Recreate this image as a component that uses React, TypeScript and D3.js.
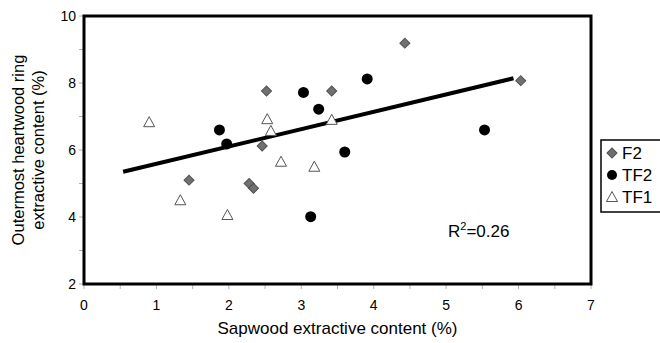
import React, { useEffect, useRef } from "react";
import * as d3 from "d3";

// F2 (gray diamonds)
const f2X = [6.03, 4.43, 3.42, 2.52, 2.46, 1.45, 2.28, 2.34];
const f2Y = [8.07, 9.19, 7.76, 7.76, 6.12, 5.1, 5.0, 4.86];
// TF2 (black circles)
const tf2X = [1.87, 1.97, 3.03, 3.24, 3.91, 3.6, 3.13, 5.53];
const tf2Y = [6.6, 6.18, 7.72, 7.22, 8.12, 5.94, 4.01, 6.6];
// TF1 (open triangles)
const tf1X = [0.9, 1.33, 1.98, 2.53, 2.58, 2.72, 3.18, 3.42];
const tf1Y = [6.83, 4.5, 4.06, 6.92, 6.57, 5.65, 5.5, 6.9];
// fitted line end points
const trendX = [0.54, 5.93];
const trendY = [5.35, 8.14];

const xLabels = [0, 1, 2, 3, 4, 5, 6, 7];
const yLabels = [2, 4, 6, 8, 10];
const legendNames = ["F2", "TF2", "TF1"];

const W = 660;
const H = 343;
const font = "'Liberation Sans', Arial, sans-serif";

const App: React.FC = () => {
  const svgRef = useRef<SVGSVGElement>(null);

  useEffect(() => {
    if (!svgRef.current) return;
    const svg = d3.select(svgRef.current);
    svg.selectAll("*").remove();

    const left = 84, right = 591, top = 16, bottom = 284;
    const x = d3.scaleLinear().domain([0, 7]).range([left, right]);
    const y = d3.scaleLinear().domain([2, 10]).range([bottom, top]);

    // tick marks (light gray, outside)
    const tickColor = "#b0b0b0";
    svg.append("g")
      .selectAll("line")
      .data(d3.range(0, 7.01, 0.5))
      .enter()
      .append("line")
      .attr("x1", (d) => x(d))
      .attr("x2", (d) => x(d))
      .attr("y1", bottom)
      .attr("y2", bottom + 5)
      .attr("stroke", tickColor)
      .attr("stroke-width", 1);
    svg.append("g")
      .selectAll("line")
      .data(d3.range(2, 10.01, 1))
      .enter()
      .append("line")
      .attr("x1", left - 5)
      .attr("x2", left)
      .attr("y1", (d) => y(d))
      .attr("y2", (d) => y(d))
      .attr("stroke", tickColor)
      .attr("stroke-width", 1);

    // tick labels
    svg.append("g")
      .selectAll("text")
      .data(xLabels)
      .enter()
      .append("text")
      .attr("x", (d) => x(d))
      .attr("y", bottom + 26)
      .attr("text-anchor", "middle")
      .style("font-family", font)
      .style("font-size", "14px")
      .text((d) => d);
    svg.append("g")
      .selectAll("text")
      .data(yLabels)
      .enter()
      .append("text")
      .attr("x", left - 8)
      .attr("y", (d) => y(d) + 5)
      .attr("text-anchor", "end")
      .style("font-family", font)
      .style("font-size", "14px")
      .text((d) => d);

    // axis titles
    svg.append("text")
      .attr("x", (left + right) / 2)
      .attr("y", 334)
      .attr("text-anchor", "middle")
      .style("font-family", font)
      .style("font-size", "17px")
      .text("Sapwood extractive content (%)");
    const yt = svg.append("text")
      .attr("transform", `translate(0,${(top + bottom) / 2}) rotate(-90)`)
      .attr("text-anchor", "middle")
      .style("font-family", font)
      .style("font-size", "16.5px");
    yt.append("tspan").attr("x", 0).attr("y", 24).text("Outermost heartwood ring");
    yt.append("tspan").attr("x", 0).attr("y", 44).text("extractive content (%)");

    // trend line
    const line = d3.line<number>()
      .x((_, i) => x(trendX[i]))
      .y((d) => y(d));
    svg.append("path")
      .attr("d", line(trendY))
      .attr("fill", "none")
      .attr("stroke", "#000")
      .attr("stroke-width", 4);

    const diamond = d3.symbol().type(d3.symbolSquare).size(50)();
    const tri = "M0,-5.5L5.5,4.5L-5.5,4.5Z";

    // TF1
    svg.append("g")
      .selectAll("path")
      .data(tf1X)
      .enter()
      .append("path")
      .attr("d", tri)
      .attr("transform", (d, i) => `translate(${x(d)},${y(tf1Y[i])})`)
      .attr("fill", "#fff")
      .attr("stroke", "#555")
      .attr("stroke-width", 1);

    // F2
    svg.append("g")
      .selectAll("path")
      .data(f2X)
      .enter()
      .append("path")
      .attr("d", diamond)
      .attr("transform", (d, i) => `translate(${x(d)},${y(f2Y[i])}) rotate(45)`)
      .attr("fill", "#707070")
      .attr("stroke", "#505050")
      .attr("stroke-width", 1);

    // TF2
    svg.append("g")
      .selectAll("circle")
      .data(tf2X)
      .enter()
      .append("circle")
      .attr("cx", (d) => x(d))
      .attr("cy", (d, i) => y(tf2Y[i]))
      .attr("r", 5.5)
      .attr("fill", "#000");

    // frame
    svg.append("rect")
      .attr("x", left)
      .attr("y", top)
      .attr("width", right - left)
      .attr("height", bottom - top)
      .attr("fill", "none")
      .attr("stroke", "#000")
      .attr("stroke-width", 3);

    // R² annotation
    const r2 = svg.append("text")
      .attr("x", 448)
      .attr("y", 237)
      .style("font-family", font)
      .style("font-size", "17px");
    r2.append("tspan").text("R");
    r2.append("tspan").attr("dy", -7).style("font-size", "11px").text("2");
    r2.append("tspan").attr("dy", 7).text("=0.26");

    // legend
    const lg = svg.append("g");
    lg.append("rect")
      .attr("x", 601)
      .attr("y", 140)
      .attr("width", 70)
      .attr("height", 72)
      .attr("fill", "#fff")
      .attr("stroke", "#000")
      .attr("stroke-width", 1.5);
    legendNames.forEach((name, i) => {
      const cy = 153 + i * 22;
      if (i === 0) {
        lg.append("path")
          .attr("d", diamond)
          .attr("transform", `translate(612,${cy}) rotate(45)`)
          .attr("fill", "#707070")
          .attr("stroke", "#505050");
      } else if (i === 1) {
        lg.append("circle").attr("cx", 612).attr("cy", cy).attr("r", 5).attr("fill", "#000");
      } else {
        lg.append("path")
          .attr("d", tri)
          .attr("transform", `translate(612,${cy})`)
          .attr("fill", "#fff")
          .attr("stroke", "#555");
      }
      lg.append("text")
        .attr("x", 622)
        .attr("y", cy + 6)
        .style("font-family", font)
        .style("font-size", "17px")
        .text(name);
    });
  }, []);

  return (
    <svg
      ref={svgRef}
      width={W}
      height={H}
      style={{ position: "absolute", left: 0, top: 0, background: "#fff" }}
    />
  );
};

export default App;
